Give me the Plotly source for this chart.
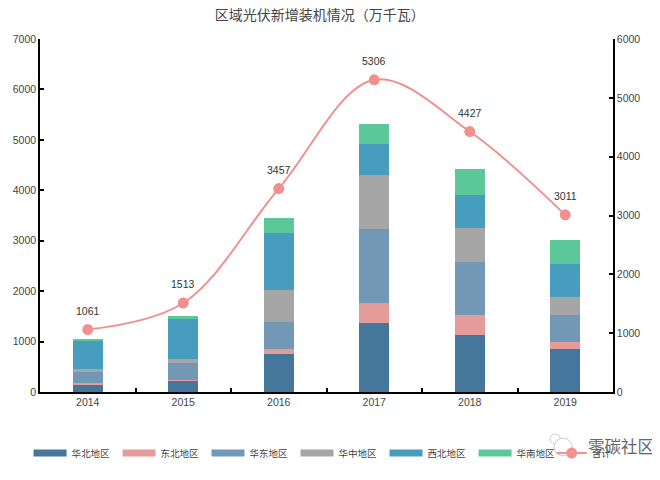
import plotly.graph_objects as go

years = ['2014', '2015', '2016', '2017', '2018', '2019']
regions = ['华北地区', '东北地区', '华东地区', '华中地区', '西北地区', '华南地区']
north = [145, 232, 753, 1368, 1137, 846]
northeast = [27, 6, 93, 403, 390, 146]
east = [225, 337, 549, 1461, 1051, 535]
central = [59, 79, 627, 1071, 667, 357]
northwest = [555, 793, 1131, 615, 661, 654]
south = [50, 66, 304, 388, 521, 473]
total = [1061, 1513, 3457, 5306, 4427, 3011]
series = [north, northeast, east, central, northwest, south]
colors = ['#45769C', '#E49C9B', '#7298B5', '#A6A6A6', '#479DBE', '#5CC89A']
line_color = '#F0908F'
font_latin = 'Liberation Sans, Noto Sans CJK SC'

fig = go.Figure()

# stacked bars, legend swatches come from the empty line traces below
for name, vals, col in zip(regions, series, colors):
    fig.add_trace(go.Bar(x=years, y=vals, name=name, marker=dict(color=col, line=dict(width=0)),
                         width=0.31, showlegend=False))
for name, col in zip(regions, colors):
    fig.add_trace(go.Scatter(x=[None], y=[None], mode='lines', name=name, line=dict(color=col, width=7)))

fig.add_trace(go.Scatter(x=years, y=total, name='合计', yaxis='y2', mode='lines+markers', legend='legend2',
                         line=dict(color=line_color, width=2, shape='spline', smoothing=1),
                         marker=dict(color=line_color, size=11)))

# category axis: annotations need the index, a string year gets read as a serial number
for i, val in enumerate(total):
    fig.add_annotation(x=i, y=val, yref='y2', text=str(val), showarrow=False, yshift=19,
                       font=dict(size=10.5, color='#333333'))

# watermark, sits on top of the last legend entry like in the original
fig.add_annotation(xref='paper', yref='paper', x=1.075, y=-0.156, text='零碳社区', showarrow=False,
                   xanchor='right', yanchor='middle', font=dict(size=16.5, color='#666666'))
fig.add_shape(type='circle', xref='paper', yref='paper', x0=0.89, x1=0.908, y0=-0.147, y1=-0.119,
              line=dict(color='#CCCCCC', width=1), fillcolor='white', layer='below')
fig.add_shape(type='circle', xref='paper', yref='paper', x0=0.897, x1=0.929, y0=-0.181, y1=-0.131,
              line=dict(color='#CCCCCC', width=1), fillcolor='white', layer='below')

axis_style = dict(showline=True, linecolor='black', linewidth=1.5, showgrid=False, zeroline=False,
                  ticklen=4, tickwidth=1.5, tickcolor='black', ticks='inside',
                  tickfont=dict(size=10.5, color='#444444'))

fig.update_layout(
    width=660, height=480, barmode='stack', plot_bgcolor='white', paper_bgcolor='white',
    margin=dict(l=32, r=55, t=31, b=96, autoexpand=False),
    font=dict(family=font_latin),
    title=dict(text='区域光伏新增装机情况（万千瓦）', x=0.4725, xanchor='center', y=0.985, yanchor='middle',
               font=dict(size=14, color='#444444')),
    xaxis=dict(type='category', categoryorder='array', categoryarray=years, range=[-0.5, 5.5],
               tickson='boundaries', **axis_style),
    yaxis=dict(range=[0, 7000], dtick=1000, **axis_style),
    yaxis2=dict(range=[0, 6000], dtick=1000, overlaying='y', side='right', **axis_style),
    legend=dict(orientation='h', x=-0.02, xanchor='left', y=-0.173, yanchor='middle', itemwidth=33,
                entrywidth=41, entrywidthmode='pixels', font=dict(size=9.5, color='#444444'),
                bgcolor='rgba(0,0,0,0)', traceorder='normal'),
    legend2=dict(orientation='h', x=0.893, xanchor='left', y=-0.173, yanchor='middle', itemwidth=30,
                 font=dict(size=9.5, color='#444444'), bgcolor='rgba(0,0,0,0)'),
)

fig.write_html("out.html")
